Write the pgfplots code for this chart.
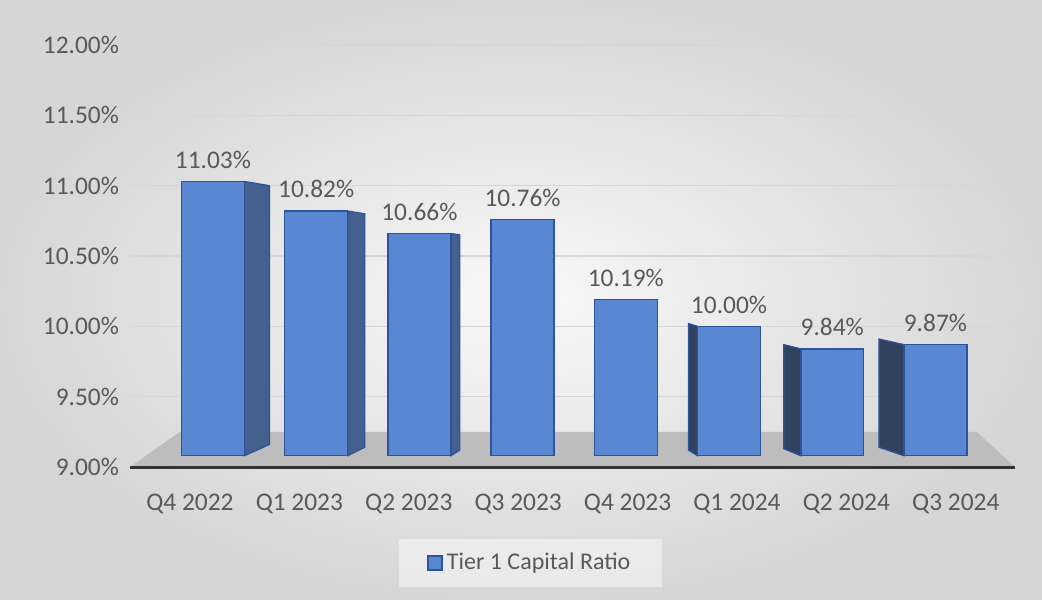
\documentclass[border=0pt]{standalone}
\usepackage{pgfplots}
\usepackage{pgfplotstable}
\pgfplotsset{compat=1.18}
\usepackage{fontspec}
\setmainfont{Carlito}
\definecolor{txt}{HTML}{595959}
\definecolor{barblue}{HTML}{5A87D2}
\definecolor{baredge}{HTML}{2F539B}
\definecolor{sideR}{HTML}{44608F}
\definecolor{sideL}{HTML}{31425F}
\definecolor{floorgray}{HTML}{BDBDBD}
\definecolor{gridc}{HTML}{D6D6D6}
\pgfplotstableread{
x v
0 11.03
1 10.82
2 10.66
3 10.76
4 10.19
5 10.00
6 9.84
7 9.87
}\datatable
\pgfplotsset{common/.style={scale only axis, width=442.5bp, height=211bp,
  at={(65bp,66.5bp)}, anchor=south west, xmin=-0.804, xmax=7.771, ymin=9, ymax=12}}
\begin{document}
\begin{tikzpicture}
\shade[inner color=white!95!gray, outer color=gray!32] (0,0) rectangle (521bp,300bp);
\begin{axis}[common, axis on top,
  axis x line*=bottom, axis y line*=left,
  y axis line style={draw=none},
  x axis line style={draw=black!80, line width=1.5bp},
  tick style={draw=none},
  ytick={9,9.5,10,10.5,11,11.5,12},
  yticklabel={\pgfmathprintnumber[fixed,fixed zerofill,precision=2,assume math mode=true]{\tick}\%},
  yticklabel style={font=\fontsize{12.7bp}{15bp}\selectfont, text=txt, xshift=-2bp},
  xtick={-0.223,0.837,1.897,2.957,4.017,5.077,6.137,7.197},
  xticklabels={Q4 2022,Q1 2023,Q2 2023,Q3 2023,Q4 2023,Q1 2024,Q2 2024,Q3 2024},
  xticklabel style={font=\fontsize{12.7bp}{15bp}\selectfont, text=txt, yshift=-10bp},
  ymajorgrids, grid style={gridc, line width=0.8bp},
]
\addplot[fill=floorgray, draw=none] coordinates {(-0.804,9) (-0.32,9.25) (7.40,9.25) (7.771,9)} -- cycle;
\end{axis}
% side faces of the 3-D bars
\begin{axis}[common, hide axis]
\addplot[fill=sideR, draw=baredge, line width=0.6bp] coordinates {(0.305,9.08) (0.305,11.03) (0.547,11.0) (0.547,9.16)} -- cycle;
\addplot[fill=sideR, draw=baredge, line width=0.6bp] coordinates {(1.305,9.08) (1.305,10.82) (1.470,10.80) (1.470,9.14)} -- cycle;
\addplot[fill=sideR, draw=baredge, line width=0.6bp] coordinates {(2.305,9.08) (2.305,10.66) (2.392,10.65) (2.392,9.12)} -- cycle;
\addplot[fill=sideL, draw=baredge, line width=0.6bp] coordinates {(4.695,9.08) (4.695,10.00) (4.608,10.02) (4.608,9.12)} -- cycle;
\addplot[fill=sideL, draw=baredge, line width=0.6bp] coordinates {(5.695,9.08) (5.695,9.84) (5.530,9.87) (5.530,9.13)} -- cycle;
\addplot[fill=sideL, draw=baredge, line width=0.6bp] coordinates {(6.695,9.08) (6.695,9.87) (6.453,9.91) (6.453,9.14)} -- cycle;
\end{axis}
\begin{axis}[common, hide axis, ybar stacked, bar width=0.61,
  legend style={at={(0.453,-0.227)}, anchor=center, draw=none, fill=white, fill opacity=0.45, text opacity=1,
    font=\fontsize{12bp}{14bp}\selectfont, text=txt, inner xsep=14bp, inner ysep=5bp},
  legend image code/.code={\draw[#1, fill opacity=1, draw opacity=1] (0bp,-3.5bp) rectangle (7bp,3.5bp);},
]
\addplot[draw=none, fill=none, forget plot] table[x=x, y expr=9.08] {\datatable};
\addplot[fill=barblue, draw=baredge, line width=0.75bp]
  table[x=x, y expr=\thisrow{v}-9.08] {\datatable};
\addlegendentry{Tier 1 Capital Ratio}
\end{axis}
\begin{axis}[common, hide axis]
\addplot[draw=none, mark=none, point meta=explicit,
  nodes near coords={\pgfmathprintnumber[fixed,fixed zerofill,precision=2,assume math mode=true]{\pgfplotspointmeta}\%},
  nodes near coords style={text=txt, font=\fontsize{12.7bp}{15bp}\selectfont, anchor=south, yshift=3bp}]
  table[x=x, y=v, meta=v] {\datatable};
\end{axis}
\end{tikzpicture}
\end{document}
